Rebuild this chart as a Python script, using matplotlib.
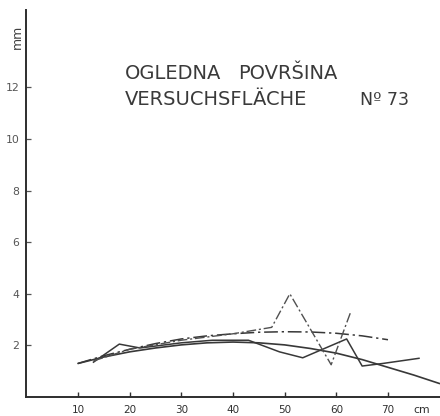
import matplotlib
matplotlib.use("Agg")
import matplotlib.pyplot as plt

# ---- data ----
# jagged solid series
jag_solid_x = [13, 18, 22, 30, 36, 43, 49, 53.5, 62, 65, 69, 76]
jag_solid_y = [1.35, 2.05, 1.9, 2.1, 2.2, 2.2, 1.75, 1.52, 2.25, 1.2, 1.3, 1.5]

# jagged dashed series
jag_dash_x = [13, 20, 30, 40, 47.5, 51, 59, 62.7]
jag_dash_y = [1.4, 1.85, 2.2, 2.45, 2.7, 4.0, 1.25, 3.25]

# smooth solid trend
trend_solid_x = [10, 15, 20, 25, 30, 35, 40, 45, 50, 55, 60, 65, 70, 75, 80]
trend_solid_y = [1.3, 1.55, 1.75, 1.9, 2.02, 2.1, 2.13, 2.1, 2.02, 1.88, 1.7, 1.45, 1.15, 0.85, 0.52]

# smooth dash-dot trend
trend_dd_x = [10, 15, 20, 25, 30, 35, 40, 45, 50, 55, 60, 65, 70]
trend_dd_y = [1.3, 1.6, 1.85, 2.07, 2.25, 2.37, 2.45, 2.51, 2.53, 2.52, 2.47, 2.37, 2.22]

x_ticks = [10, 20, 30, 40, 50, 60, 70]
y_ticks = [2, 4, 6, 8, 10, 12]
x_unit = "cm"
y_unit = "mm"
title_words_1 = ["OGLEDNA", "POVRŠINA"]
title_words_2 = ["VERSUCHSFLÄCHE", "Nº 73"]

# ---- figure ----
W, H = 440, 416
fig = plt.figure(figsize=(W / 100, H / 100), dpi=100)
fig.patch.set_facecolor("white")

x0_px, x_per = 26.3, 5.167   # pixel of x=0, pixels per cm
y0_px, y_per = 397.0, 25.8   # pixel of y=0, pixels per mm
xmax = (W - x0_px) / x_per
ymax = (y0_px - 10) / y_per
ax = fig.add_axes([x0_px / W, (H - y0_px) / H, 1 - x0_px / W, (y0_px - 10) / H])
ax.set_xlim(0, xmax)
ax.set_ylim(0, ymax)
ax.set_facecolor("white")

lc = "#383838"
ax.plot(trend_solid_x, trend_solid_y, color=lc, lw=1.2, solid_capstyle="round")
ax.plot(trend_dd_x, trend_dd_y, color=lc, lw=1.1, dashes=(9, 2.5, 1.5, 2.5))
ax.plot(jag_solid_x, jag_solid_y, color=lc, lw=1.1)
ax.plot(jag_dash_x, jag_dash_y, color="#505050", lw=1.0, dashes=(7, 2, 1.5, 2))

for s in ["top", "right"]:
    ax.spines[s].set_visible(False)
for s in ["left", "bottom"]:
    ax.spines[s].set_color("#2e2e2e")
    ax.spines[s].set_linewidth(1.4)

ax.set_xticks(x_ticks)
ax.set_xticklabels([str(v) for v in x_ticks])
ax.set_yticks(y_ticks)
ax.set_yticklabels([str(v) for v in y_ticks])
ax.tick_params(axis="x", direction="in", length=3.5, width=1.0, colors="#303030",
               labelsize=7.5, pad=6)
ax.tick_params(axis="y", direction="in", length=3.5, width=0.9, colors="#555555",
               labelsize=7.8, pad=5)

ax.annotate(x_unit, xy=(76.5, 0), xycoords=("data", "axes fraction"),
            xytext=(0, -6), textcoords="offset points", ha="center", va="top",
            fontsize=7.8, color="#303030", annotation_clip=False)
fig.text(17.5 / W, 1 - 37 / H, y_unit, rotation=90, ha="center", va="center",
         fontsize=9, color="#404040")

tc = "#3a3a3a"
fs = 14
fig.text(125 / W, 1 - 79 / H, title_words_1[0], fontsize=fs, color=tc, va="baseline", ha="left")
fig.text(238 / W, 1 - 79 / H, title_words_1[1], fontsize=fs, color=tc, va="baseline", ha="left")
fig.text(125 / W, 1 - 105 / H, title_words_2[0], fontsize=fs, color=tc, va="baseline", ha="left")
fig.text(360 / W, 1 - 105 / H, title_words_2[1], fontsize=12.5, color=tc, va="baseline", ha="left")

fig.savefig("out.png", dpi=100, facecolor="white")
